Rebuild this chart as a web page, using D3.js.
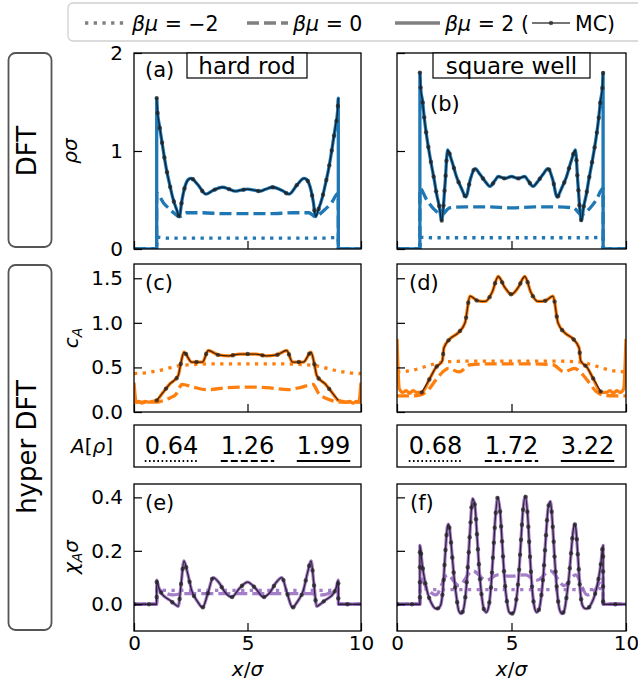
<!DOCTYPE html>
<html>
<head>
<meta charset="utf-8">
<script src="https://cdn.jsdelivr.net/npm/d3@7"></script>
<style>
  body { margin: 0; background: #fff; }
  svg text { font-family: "DejaVu Sans", sans-serif; }
</style>
</head>
<body>
<svg id="fig" width="638" height="683"></svg>
<script>
// ---------- data ----------
// suffix m2 = beta mu -2 (dotted), z = beta mu 0 (dashed), p2 = beta mu 2 (solid, + MC)

// (a) hard rod, rho sigma
const rodRhoXm2 = [0, 0.999, 1.0, 1.5, 5.0, 8.5, 9.0, 9.001, 10]
const rodRhoYm2 = [0, 0, 0.12, 0.11, 0.11, 0.11, 0.12, 0, 0]
const rodRhoXz = [0, 0.999, 1.0, 1.3, 1.6, 1.85, 2.0, 2.3, 3.0, 4.0, 5.0, 6.0, 7.0, 7.7, 8.0, 8.15, 8.4, 8.7, 9.0, 9.001, 10]
const rodRhoYz = [0, 0, 0.57, 0.47, 0.40, 0.35, 0.33, 0.37, 0.37, 0.36, 0.36, 0.36, 0.37, 0.37, 0.33, 0.35, 0.40, 0.47, 0.57, 0, 0]
const rodRhoXp2 = [0, 0.999, 1.0, 1.03, 1.12, 1.22, 1.32, 1.44, 1.56, 1.70, 1.88, 2.0, 2.1, 2.25, 2.4, 2.51, 2.8, 3.17, 3.5, 3.9, 4.2, 4.45, 4.7, 5.0, 5.3, 5.55, 5.8, 6.1, 6.5, 6.83, 7.2, 7.49, 7.6, 7.75, 7.9, 8.0, 8.12, 8.3, 8.44, 8.56, 8.68, 8.78, 8.88, 8.97, 9.0, 9.001, 10]
const rodRhoYp2 = [0, 0, 1.54, 1.41, 1.26, 1.11, 0.96, 0.80, 0.67, 0.53, 0.40, 0.33, 0.48, 0.64, 0.71, 0.72, 0.66, 0.56, 0.60, 0.63, 0.61, 0.59, 0.60, 0.61, 0.60, 0.59, 0.61, 0.63, 0.60, 0.56, 0.66, 0.72, 0.71, 0.64, 0.48, 0.33, 0.40, 0.53, 0.67, 0.80, 0.96, 1.11, 1.26, 1.41, 1.54, 0, 0]

// (b) square well, rho sigma
const swRhoXm2 = [0, 0.999, 1.0, 1.5, 5.0, 8.5, 9.0, 9.001, 10]
const swRhoYm2 = [0, 0, 0.12, 0.115, 0.115, 0.115, 0.12, 0, 0]
const swRhoXz = [0, 0.999, 1.0, 1.3, 1.6, 1.95, 2.3, 3.0, 4.0, 5.0, 6.0, 7.0, 7.7, 8.05, 8.4, 8.7, 9.0, 9.001, 10]
const swRhoYz = [0, 0, 0.62, 0.50, 0.41, 0.35, 0.42, 0.43, 0.43, 0.42, 0.43, 0.43, 0.42, 0.35, 0.41, 0.50, 0.62, 0, 0]
const swRhoXp2 = [0, 0.999, 1.0, 1.03, 1.12, 1.19, 1.29, 1.39, 1.51, 1.63, 1.73, 1.85, 1.95, 2.1, 2.21, 2.39, 2.61, 2.83, 3.01, 3.19, 3.41, 3.63, 3.85, 4.06, 4.28, 4.42, 4.72, 5.0, 5.28, 5.58, 5.72, 5.94, 6.15, 6.37, 6.59, 6.81, 6.99, 7.17, 7.39, 7.61, 7.79, 7.9, 8.05, 8.15, 8.27, 8.37, 8.49, 8.61, 8.71, 8.81, 8.88, 8.97, 9.0, 9.001, 10]
const swRhoYp2 = [0, 0, 1.80, 1.65, 1.50, 1.34, 1.16, 1.01, 0.85, 0.70, 0.56, 0.43, 0.29, 0.67, 1.01, 0.90, 0.73, 0.61, 0.53, 0.70, 0.82, 0.76, 0.69, 0.64, 0.70, 0.74, 0.72, 0.74, 0.72, 0.74, 0.70, 0.64, 0.69, 0.76, 0.82, 0.70, 0.53, 0.61, 0.73, 0.90, 1.01, 0.67, 0.29, 0.43, 0.56, 0.70, 0.85, 1.01, 1.16, 1.34, 1.50, 1.65, 1.80, 0, 0]

// (c) hard rod, c_A
const rodCAXm2 = [0, 0.5, 1.0, 1.5, 2.0, 2.5, 3.5, 5.0, 6.5, 7.5, 8.0, 8.5, 9.0, 9.5, 10]
const rodCAYm2 = [0.43, 0.44, 0.46, 0.49, 0.52, 0.53, 0.54, 0.54, 0.54, 0.53, 0.52, 0.49, 0.46, 0.44, 0.43]
const rodCAXz = [0, 0.5, 1.0, 1.3, 1.6, 1.85, 2.0, 2.1, 2.6, 3.2, 4.0, 5.0, 6.0, 6.8, 7.4, 7.9, 8.0, 8.15, 8.4, 8.7, 9.0, 9.5, 10]
const rodCAYz = [0.11, 0.11, 0.11, 0.13, 0.16, 0.20, 0.27, 0.31, 0.28, 0.25, 0.27, 0.28, 0.27, 0.25, 0.28, 0.31, 0.27, 0.20, 0.16, 0.13, 0.11, 0.11, 0.11]
const rodCAXp2 = [0, 0.1, 0.2, 0.35, 0.5, 0.65, 0.8, 1.0, 1.22, 1.56, 1.95, 2.05, 2.2, 2.54, 3.02, 3.27, 3.72, 4.18, 4.64, 5.0, 5.36, 5.82, 6.28, 6.73, 6.98, 7.46, 7.8, 7.95, 8.05, 8.44, 8.78, 9.0, 9.2, 9.35, 9.5, 9.65, 9.8, 9.9, 10]
const rodCAYp2 = [0.33, 0.11, 0.12, 0.10, 0.12, 0.11, 0.12, 0.13, 0.20, 0.31, 0.41, 0.53, 0.67, 0.56, 0.56, 0.69, 0.64, 0.63, 0.65, 0.65, 0.65, 0.63, 0.64, 0.69, 0.56, 0.56, 0.67, 0.53, 0.41, 0.31, 0.20, 0.13, 0.12, 0.11, 0.12, 0.10, 0.12, 0.11, 0.33]

// (d) square well, c_A
const swCAXm2 = [0, 0.5, 1.0, 1.5, 2.0, 3.0, 5.0, 7.0, 8.0, 8.5, 9.0, 9.5, 10]
const swCAYm2 = [0.45, 0.46, 0.49, 0.53, 0.56, 0.57, 0.57, 0.57, 0.56, 0.53, 0.49, 0.46, 0.45]
const swCAXz = [0, 0.5, 1.0, 1.3, 1.7, 2.0, 2.25, 2.7, 3.2, 4.0, 5.0, 6.0, 6.8, 7.3, 7.75, 8.0, 8.3, 8.7, 9.0, 9.5, 10]
const swCAYz = [0.18, 0.18, 0.19, 0.23, 0.36, 0.45, 0.49, 0.45, 0.53, 0.54, 0.54, 0.54, 0.53, 0.45, 0.49, 0.45, 0.36, 0.23, 0.19, 0.18, 0.18]
const swCAXp2 = [0, 0.1, 0.25, 0.4, 0.55, 0.7, 0.85, 1.08, 1.44, 1.7, 1.98, 2.05, 2.31, 2.68, 2.97, 3.19, 3.5, 3.85, 4.15, 4.42, 4.7, 5.0, 5.3, 5.58, 5.85, 6.15, 6.5, 6.81, 7.03, 7.32, 7.69, 7.95, 8.02, 8.3, 8.56, 8.92, 9.15, 9.3, 9.45, 9.6, 9.75, 9.9, 10]
const swCAYp2 = [0.82, 0.26, 0.22, 0.24, 0.21, 0.24, 0.22, 0.22, 0.38, 0.50, 0.575, 0.72, 0.82, 0.89, 1.0, 1.30, 1.25, 1.24, 1.34, 1.52, 1.40, 1.32, 1.40, 1.52, 1.34, 1.24, 1.25, 1.30, 1.0, 0.89, 0.82, 0.72, 0.575, 0.50, 0.38, 0.22, 0.22, 0.24, 0.21, 0.24, 0.22, 0.26, 0.82]

// (e) hard rod, chi_A sigma
const rodChiXm2 = [0, 0.999, 1.0, 1.5, 5.0, 8.5, 9.0, 9.001, 10]
const rodChiYm2 = [0, 0, 0.055, 0.052, 0.052, 0.052, 0.055, 0, 0]
const rodChiXz = [0, 0.999, 1.0, 1.3, 1.7, 2.2, 3.0, 4.0, 5.0, 6.0, 7.0, 7.8, 8.3, 8.7, 9.0, 9.001, 10]
const rodChiYz = [0, 0, 0.06, 0.045, 0.035, 0.04, 0.04, 0.04, 0.04, 0.04, 0.04, 0.04, 0.035, 0.045, 0.06, 0, 0]
const rodChiXp2 = [0, 0.5, 0.999, 1.0, 1.1, 1.22, 1.4, 1.58, 1.8, 1.95, 2.08, 2.2, 2.35, 2.54, 2.8, 3.02, 3.25, 3.49, 3.75, 4.0, 4.3, 4.65, 5.0, 5.35, 5.7, 6.0, 6.25, 6.51, 6.75, 6.98, 7.2, 7.46, 7.65, 7.8, 7.92, 8.05, 8.2, 8.42, 8.6, 8.78, 8.9, 9.0, 9.001, 9.5, 10]
const rodChiYp2 = [0, 0, 0, 0.09, 0.06, 0.04, 0.025, 0.015, 0.0, -0.008, 0.08, 0.162, 0.12, 0.052, 0.01, -0.012, 0.04, 0.10, 0.08, 0.046, 0.027, 0.06, 0.083, 0.06, 0.027, 0.046, 0.08, 0.10, 0.04, -0.012, 0.01, 0.052, 0.12, 0.162, 0.08, -0.008, 0.0, 0.015, 0.025, 0.04, 0.06, 0.09, 0, 0, 0]

// (f) square well, chi_A sigma
const swChiXm2 = [0, 0.999, 1.0, 1.5, 5.0, 8.5, 9.0, 9.001, 10]
const swChiYm2 = [0, 0, 0.06, 0.055, 0.055, 0.055, 0.06, 0, 0]
const swChiXz = [0, 0.999, 1.0, 1.3, 1.7, 2.2, 2.7, 3.3, 3.9, 4.4, 5.0, 5.6, 6.1, 6.7, 7.3, 7.8, 8.3, 8.7, 9.0, 9.001, 10]
const swChiYz = [0, 0, 0.10, 0.06, 0.035, 0.11, 0.07, 0.125, 0.09, 0.11, 0.105, 0.11, 0.09, 0.125, 0.07, 0.11, 0.035, 0.06, 0.10, 0, 0]
const swChiXp2 = [0, 0.5, 0.999, 1.0, 1.1, 1.2, 1.3, 1.4, 1.5, 1.6, 1.7, 1.8, 1.9, 2.0, 2.1, 2.2, 2.25, 2.3, 2.4, 2.5, 2.6, 2.7, 2.8, 2.9, 3.0, 3.1, 3.2, 3.3, 3.4, 3.5, 3.6, 3.7, 3.8, 3.9, 4.0, 4.1, 4.2, 4.3, 4.4, 4.5, 4.6, 4.7, 4.8, 4.9, 5.0, 5.1, 5.2, 5.3, 5.4, 5.5, 5.6, 5.7, 5.8, 5.9, 6.0, 6.1, 6.2, 6.3, 6.4, 6.5, 6.6, 6.7, 6.8, 6.9, 7.0, 7.1, 7.2, 7.3, 7.4, 7.5, 7.6, 7.7, 7.75, 7.8, 7.9, 8.0, 8.1, 8.2, 8.3, 8.4, 8.5, 8.6, 8.7, 8.8, 8.9, 9.0, 9.001, 9.5, 10]
const swChiYp2 = [0, 0, 0,
  0.22, 0.15, 0.095, 0.055, 0.025, 0.005, -0.01, -0.016, -0.015, -0.005, 0.05, 0.18, 0.29, 0.30,
  0.28, 0.19, 0.095, 0.025, -0.025, -0.035, -0.02, 0.04, 0.15, 0.29, 0.395, 0.37, 0.25, 0.12, 0.03, -0.02, -0.03,
  -0.01, 0.06, 0.19, 0.33, 0.40, 0.35, 0.22, 0.09, 0.01, -0.03, -0.035, -0.03, 0.01, 0.09, 0.22, 0.35, 0.405,
  0.34, 0.19, 0.06, -0.01, -0.03, -0.02, 0.03, 0.12, 0.25, 0.36, 0.385, 0.29, 0.15, 0.04, -0.02, -0.035, -0.025,
  0.025, 0.095, 0.19, 0.28, 0.30, 0.29, 0.18, 0.05, -0.005, -0.015, -0.016, -0.01, 0.005, 0.025, 0.055, 0.095,
  0.15, 0.22, 0, 0, 0]

// A[rho] values
const aRod = [0.64, 1.26, 1.99]
const aSw = [0.68, 1.72, 3.22]

// ticks
const xTicks = [0, 5, 10]
const rhoTicks = [0, 1, 2]
const cATicks = [0, 0.5, 1.0, 1.5]
const chiTicks = [0, 0.2, 0.4]

// ---------- layout ----------
const svg = d3.select("#fig")
const colL = [134, 361], colR = [397, 626]
const rowRho = [53, 249], rowCA = [264, 412], rowA = [425, 467], rowChi = [484, 631]
const blue = "#1f77b4", orange = "#ff7f0e", purple = "#9467bd"
const dashes = { m2: "3.3,5.4", z: "12,5", p2: null }

function drawPanel(cfg) {
    const x = d3.scaleLinear().domain([0, 10]).range(cfg.cols)
    const y = d3.scaleLinear().domain(cfg.yDomain).range([cfg.rows[1], cfg.rows[0]])
    const g = svg.append("g")

    const clipId = "clip-" + cfg.id
    g.append("clipPath").attr("id", clipId).append("rect")
        .attr("x", cfg.cols[0]).attr("y", cfg.rows[0])
        .attr("width", cfg.cols[1] - cfg.cols[0]).attr("height", cfg.rows[1] - cfg.rows[0])
    const plot = g.append("g").attr("clip-path", `url(#${clipId})`)

    const line = d3.line().x(d => x(d[0])).y(d => y(d[1])).curve(d3.curveMonotoneX)

    // DFT curves
    ;["m2", "z", "p2"].forEach(k => {
        plot.append("path")
            .datum(d3.zip(cfg[k][0], cfg[k][1]))
            .attr("d", line)
            .attr("fill", "none")
            .attr("stroke", cfg.color)
            .attr("stroke-opacity", cfg.alpha || 1)
            .attr("stroke-width", 3.3)
            .attr("stroke-linejoin", "round")
            .attr("stroke-dasharray", dashes[k])
    })

    // MC on top of the beta mu = 2 curve
    const mcData = d3.zip(cfg.p2[0], cfg.p2[1])
        .filter(d => d[0] >= cfg.mc[0] && d[0] <= cfg.mc[1])
    const mcPath = plot.append("path")
        .datum(mcData)
        .attr("d", line)
        .attr("fill", "none")
        .attr("stroke", "#000")
        .attr("stroke-opacity", 0.72)
        .attr("stroke-width", 1.3)
    const node = mcPath.node()
    const marks = d3.range(0, node.getTotalLength() + 0.1, 15).map(s => node.getPointAtLength(s))
    plot.selectAll("circle.mc").data(marks).join("circle")
        .attr("class", "mc")
        .attr("cx", d => d.x).attr("cy", d => d.y)
        .attr("r", 2.2)
        .attr("fill", "#222").attr("fill-opacity", 0.72)

    // axes, ticks pointing in
    const yAxis = d3.axisLeft(y).tickValues(cfg.yTicks).tickSize(-8).tickPadding(11)
        .tickFormat(cfg.yLabels ? d3.format(cfg.yFmt) : "")
    const ya = g.append("g").attr("transform", `translate(${cfg.cols[0]},0)`).call(yAxis)
    const xAxis = d3.axisBottom(x).tickValues(xTicks).tickSize(-8).tickPadding(5)
        .tickFormat(cfg.xLabels ? d3.format("d") : "")
    const xa = g.append("g").attr("transform", `translate(0,${cfg.rows[1]})`).call(xAxis)
    ;[ya, xa].forEach(a => {
        a.select(".domain").remove()
        a.attr("font-size", 20)
        a.selectAll("line").attr("stroke", "#000").attr("stroke-width", 1.2)
        a.selectAll("text").attr("fill", "#000")
    })

    g.append("rect")
        .attr("x", cfg.cols[0]).attr("y", cfg.rows[0])
        .attr("width", cfg.cols[1] - cfg.cols[0]).attr("height", cfg.rows[1] - cfg.rows[0])
        .attr("fill", "none").attr("stroke", "#000").attr("stroke-width", 1.3)

    g.append("text")
        .attr("x", cfg.cols[0] + cfg.labelPos[0]).attr("y", cfg.rows[0] + cfg.labelPos[1])
        .attr("font-size", 21)
        .text(cfg.label)
}

drawPanel({ id: "a", cols: colL, rows: rowRho, yDomain: [0, 2], yTicks: rhoTicks, yLabels: true, yFmt: "d",
    color: blue, m2: [rodRhoXm2, rodRhoYm2], z: [rodRhoXz, rodRhoYz], p2: [rodRhoXp2, rodRhoYp2],
    mc: [1, 9], label: "(a)", labelPos: [11, 24] })
drawPanel({ id: "b", cols: colR, rows: rowRho, yDomain: [0, 2], yTicks: rhoTicks, yLabels: false,
    color: blue, m2: [swRhoXm2, swRhoYm2], z: [swRhoXz, swRhoYz], p2: [swRhoXp2, swRhoYp2],
    mc: [1, 9], label: "(b)", labelPos: [33, 58] })
drawPanel({ id: "c", cols: colL, rows: rowCA, yDomain: [0, 1.66], yTicks: cATicks, yLabels: true, yFmt: ".1f",
    color: orange, m2: [rodCAXm2, rodCAYm2], z: [rodCAXz, rodCAYz], p2: [rodCAXp2, rodCAYp2],
    mc: [1, 9], label: "(c)", labelPos: [11, 26] })
drawPanel({ id: "d", cols: colR, rows: rowCA, yDomain: [0, 1.66], yTicks: cATicks, yLabels: false,
    color: orange, m2: [swCAXm2, swCAYm2], z: [swCAXz, swCAYz], p2: [swCAXp2, swCAYp2],
    mc: [1, 9], label: "(d)", labelPos: [12, 26] })
drawPanel({ id: "e", cols: colL, rows: rowChi, yDomain: [-0.1, 0.45], yTicks: chiTicks, yLabels: true, yFmt: ".1f",
    xLabels: true, color: purple, alpha: 0.85, m2: [rodChiXm2, rodChiYm2], z: [rodChiXz, rodChiYz],
    p2: [rodChiXp2, rodChiYp2], mc: [0, 10], label: "(e)", labelPos: [11, 26] })
drawPanel({ id: "f", cols: colR, rows: rowChi, yDomain: [-0.1, 0.45], yTicks: chiTicks, yLabels: false,
    xLabels: true, color: purple, alpha: 0.85, m2: [swChiXm2, swChiYm2], z: [swChiXz, swChiYz],
    p2: [swChiXp2, swChiYp2], mc: [0, 10], label: "(f)", labelPos: [13, 26] })

// boxed titles
function boxedTitle(cx, x0, x1, txt) {
    svg.append("rect").attr("x", x0).attr("y", 53).attr("width", x1 - x0).attr("height", 25)
        .attr("fill", "#fff").attr("stroke", "#000").attr("stroke-width", 1.2)
    svg.append("text").attr("x", cx).attr("y", 74).attr("text-anchor", "middle")
        .attr("font-size", 23).text(txt)
}
boxedTitle(247, 187, 307, "hard rod")
boxedTitle(511.5, 433, 590, "square well")

// A[rho] row
const underline = ["1.6,2.6", "7,3", null]
;[[colL, aRod], [colR, aSw]].forEach(([cols, vals]) => {
    svg.append("rect").attr("x", cols[0]).attr("y", rowA[0])
        .attr("width", cols[1] - cols[0]).attr("height", rowA[1] - rowA[0])
        .attr("fill", "none").attr("stroke", "#000").attr("stroke-width", 1.3)
    const cx = (cols[0] + cols[1]) / 2
    const pos = d3.scalePoint().domain(d3.range(vals.length)).range([cx - 76, cx + 76])
    vals.forEach((v, i) => {
        const t = svg.append("text").attr("x", pos(i)).attr("y", 454).attr("text-anchor", "middle")
            .attr("font-size", 24).text(d3.format(".2f")(v))
        const w = t.node().getComputedTextLength()
        svg.append("line").attr("x1", pos(i) - w / 2).attr("x2", pos(i) + w / 2)
            .attr("y1", 461).attr("y2", 461)
            .attr("stroke", "#000").attr("stroke-width", 2)
            .attr("stroke-dasharray", underline[i])
    })
})

// y labels
function rotLabel(x, y, parts) {
    const t = svg.append("text").attr("transform", `translate(${x},${y}) rotate(-90)`)
        .attr("text-anchor", "middle").attr("font-size", 20)
    parts.forEach(p => {
        const s = t.append("tspan").text(p.t).attr("font-style", "italic")
        if (p.sub) s.attr("font-size", 14).attr("dy", 4)
        if (p.back) s.attr("dy", -4)
    })
}
rotLabel(77, 151, [{ t: "ρσ" }])
rotLabel(78, 338, [{ t: "c" }, { t: "A", sub: true }])
rotLabel(78, 557, [{ t: "χ" }, { t: "A", sub: true }, { t: "σ", back: true }])
const aLab = svg.append("text").attr("x", 113).attr("y", 453).attr("text-anchor", "end").attr("font-size", 20)
aLab.append("tspan").attr("font-style", "italic").text("A")
aLab.append("tspan").text("[")
aLab.append("tspan").attr("font-style", "italic").text("ρ")
aLab.append("tspan").text("]")

// x labels
;[colL, colR].forEach(cols => {
    const xl = svg.append("text").attr("x", (cols[0] + cols[1]) / 2).attr("y", 676)
        .attr("text-anchor", "middle").attr("font-size", 20)
    xl.append("tspan").attr("font-style", "italic").text("x")
    xl.append("tspan").text("/")
    xl.append("tspan").attr("font-style", "italic").text("σ")
})

// row group boxes on the left
;[[rowRho[0], 247, "DFT", 151], [265, 630, "hyper DFT", 447]].forEach(([y0, y1, txt, cy]) => {
    svg.append("rect").attr("x", 8.5).attr("y", y0).attr("width", 43).attr("height", y1 - y0)
        .attr("rx", 7).attr("fill", "none").attr("stroke", "#555").attr("stroke-width", 1.8)
    svg.append("text").attr("transform", `translate(36,${cy}) rotate(-90)`)
        .attr("text-anchor", "middle").attr("font-size", 26).text(txt)
})

// legend
const leg = svg.append("g")
leg.append("rect").attr("x", 68).attr("y", 3).attr("width", 600).attr("height", 38).attr("rx", 5)
    .attr("fill", "#fff").attr("stroke", "#d0d0d0").attr("stroke-width", 1.3)
const legItems = [
    { x0: 85, x1: 127, dash: dashes.m2, tx: 132, val: "−2" },
    { x0: 247, x1: 288, dash: dashes.z, tx: 293, val: "0" },
    { x0: 395, x1: 440, dash: null, tx: 445, val: "2 (" }
]
legItems.forEach(it => {
    leg.append("line").attr("x1", it.x0).attr("x2", it.x1).attr("y1", 23).attr("y2", 23)
        .attr("stroke", "#808080").attr("stroke-width", 3.3).attr("stroke-dasharray", it.dash)
    const t = leg.append("text").attr("x", it.tx).attr("y", 31).attr("font-size", 20.5)
    t.append("tspan").attr("font-style", "italic").text("βμ")
    t.append("tspan").text(" = " + it.val)
})
leg.append("line").attr("x1", 532).attr("x2", 570).attr("y1", 23).attr("y2", 23)
    .attr("stroke", "#000").attr("stroke-opacity", 0.72).attr("stroke-width", 1.3)
leg.append("circle").attr("cx", 551).attr("cy", 23).attr("r", 2.2).attr("fill", "#222").attr("fill-opacity", 0.72)
leg.append("text").attr("x", 575).attr("y", 31).attr("font-size", 20.5).text("MC)")
</script>
</body>
</html>
